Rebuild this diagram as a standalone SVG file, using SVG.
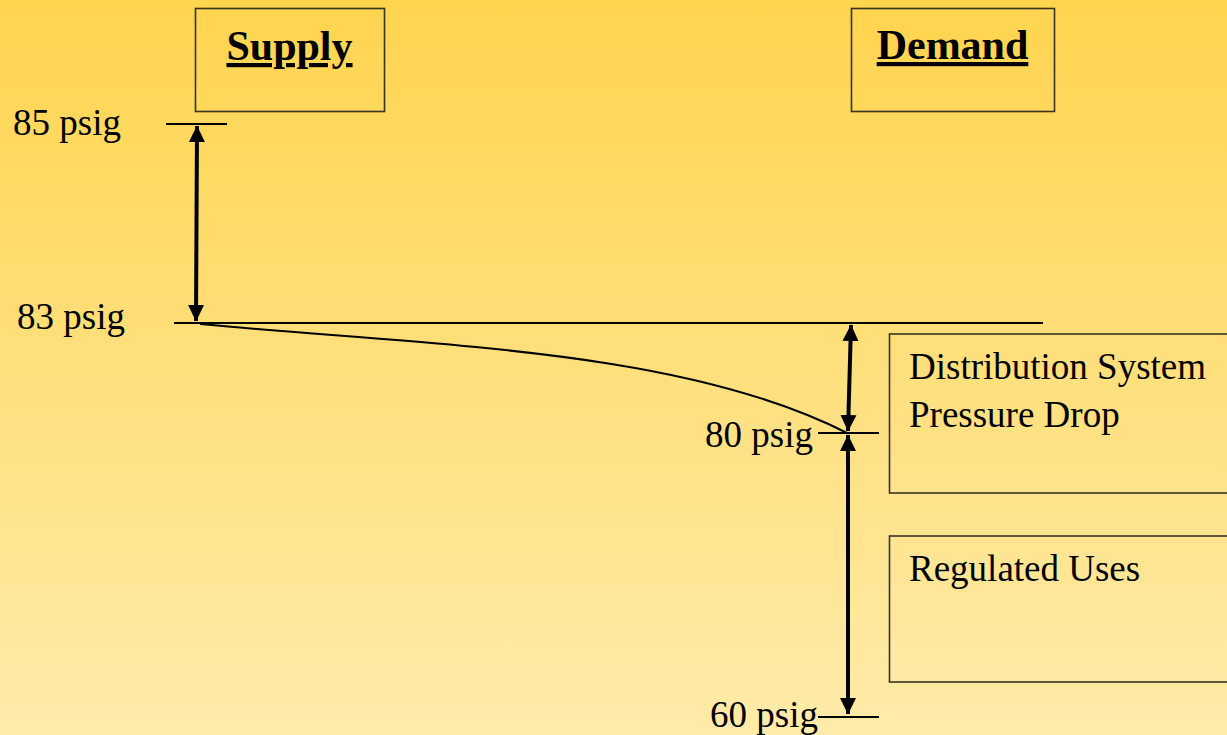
<svg xmlns="http://www.w3.org/2000/svg" width="1227" height="735" viewBox="0 0 1227 735">
  <defs>
    <linearGradient id="bg" x1="0" y1="0" x2="0" y2="1">
      <stop offset="0" stop-color="#FFD44E"/>
      <stop offset="1" stop-color="#FFEBAA"/>
    </linearGradient>
    <marker id="ah" markerUnits="userSpaceOnUse" markerWidth="17" markerHeight="17" refX="16" refY="8.5" orient="auto-start-reverse" viewBox="0 0 17 17">
      <path d="M0,0.5 L16.5,8.5 L0,16.5 z" fill="#000"/>
    </marker>
  </defs>
  <style>
    .box { fill: none; stroke: #3a3323; stroke-width: 1.6; }
    .title { font-family: "Liberation Serif", "Times New Roman", serif; font-weight: bold; font-size: 42px; text-decoration: underline; fill: #000; }
    .lbl { font-family: "Liberation Serif", "Times New Roman", serif; font-size: 37px; fill: #000; }
    .ln { stroke: #000; stroke-width: 2; fill: none; }
    .arr { stroke: #000; stroke-width: 4; fill: none; marker-start: url(#ah); marker-end: url(#ah); }
  </style>
  <rect x="0" y="0" width="1227" height="735" fill="url(#bg)"/>

  <g id="supply">
    <rect class="box" x="195.5" y="8.5" width="189" height="103"/>
    <text class="title" x="289.5" y="60" text-anchor="middle">Supply</text>
  </g>
  <g id="demand">
    <rect class="box" x="851.5" y="8.5" width="203" height="103"/>
    <text class="title" x="952.5" y="59" text-anchor="middle">Demand</text>
  </g>
  <g id="distribution">
    <rect class="box" x="889.5" y="334" width="345" height="159"/>
    <text class="lbl" x="909" y="379">Distribution System</text>
    <text class="lbl" x="909" y="427">Pressure Drop</text>
  </g>
  <g id="regulated">
    <rect class="box" x="889.5" y="536" width="345" height="146"/>
    <text class="lbl" x="909" y="581">Regulated Uses</text>
  </g>
  <g id="labels">
    <text class="lbl" x="13" y="135">85 psig</text>
    <text class="lbl" x="17" y="329">83 psig</text>
    <text class="lbl" x="705" y="447">80 psig</text>
    <text class="lbl" x="710" y="727">60 psig</text>
  </g>

  <g id="connectors">
    <line class="ln" x1="166" y1="124" x2="227" y2="124"/>
    <line class="ln" x1="174" y1="323" x2="1043" y2="323"/>
    <line class="ln" x1="818" y1="433" x2="879" y2="433"/>
    <line class="ln" x1="818" y1="717" x2="879" y2="717"/>
    <path class="ln" stroke-width="3" d="M200,324 C430,346 680,348 847,433"/>
    <line class="arr" x1="197" y1="126" x2="196" y2="321"/>
    <line class="arr" x1="851" y1="325" x2="848" y2="431"/>
    <line class="arr" x1="848" y1="435" x2="848" y2="714"/>
  </g>
</svg>
